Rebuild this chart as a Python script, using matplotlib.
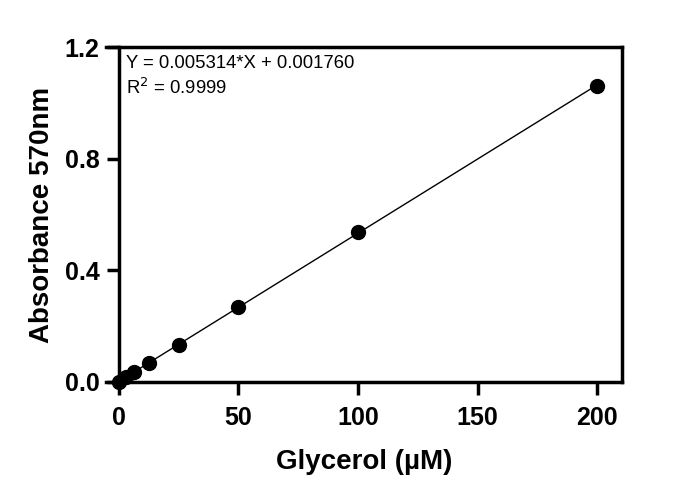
import matplotlib
matplotlib.use('Agg')
import matplotlib.pyplot as plt
import numpy as np

# DATA ##########################################

glycerol_um = [0, 3.125, 6.25, 12.5, 25, 50, 100, 200]
absorbance = [0.0, 0.018, 0.034, 0.068, 0.133, 0.269, 0.537, 1.060]
slope = 0.005314
intercept = 0.001760
r_squared = 0.9999
x_ticks = [0, 50, 100, 150, 200]
y_ticks = [0.0, 0.4, 0.8, 1.2]

# SETUP #########################################

plt.rcParams['font.family'] = ['Liberation Sans', 'DejaVu Sans']

fig = plt.figure(figsize=(7, 4.96), dpi=100)
ax = fig.add_axes([0.151, 0.230, 0.738, 0.675])

ax.set_xlim(-5.5, 210.5)
ax.set_ylim(0, 1.2)

# SPINES / TICKS ################################

for side in ['left', 'right', 'top', 'bottom']:
    ax.spines[side].set_linewidth(2.5)
ax.spines['left'].set_position(('data', 0))

ax.set_xticks(x_ticks)
ax.set_xticklabels([str(t) for t in x_ticks])
ax.set_yticks(y_ticks)
ax.set_yticklabels([f'{t:.1f}' for t in y_ticks])
ax.tick_params(axis='both', direction='out', length=9, width=2.5,
               labelsize=18, pad=5)
ax.tick_params(axis='x', pad=8)
for lab in ax.get_xticklabels() + ax.get_yticklabels():
    lab.set_fontweight('bold')

# PLOTTING ######################################

fit_x = np.array([0, max(glycerol_um)])
ax.plot(fit_x, slope * fit_x + intercept, color='black', linewidth=1.0, zorder=2)
ax.plot(glycerol_um, absorbance, 'o', color='black', markersize=10,
        clip_on=False, zorder=3)

# LABELS ########################################

ax.set_xlabel('Glycerol (µM)', fontsize=20, fontweight='bold', labelpad=14)
ax.set_ylabel('Absorbance 570nm', fontsize=20, fontweight='bold', labelpad=7)

ax.text(0.039, 0.937, f'Y = {slope:.6f}*X + {intercept:.6f}', transform=ax.transAxes,
        fontsize=13.3, va='baseline', ha='left')
ax.text(0.039, 0.860, f'R$^2$ = {r_squared}', transform=ax.transAxes,
        fontsize=13.3, va='baseline', ha='left')

fig.savefig('out.png', dpi=100)
